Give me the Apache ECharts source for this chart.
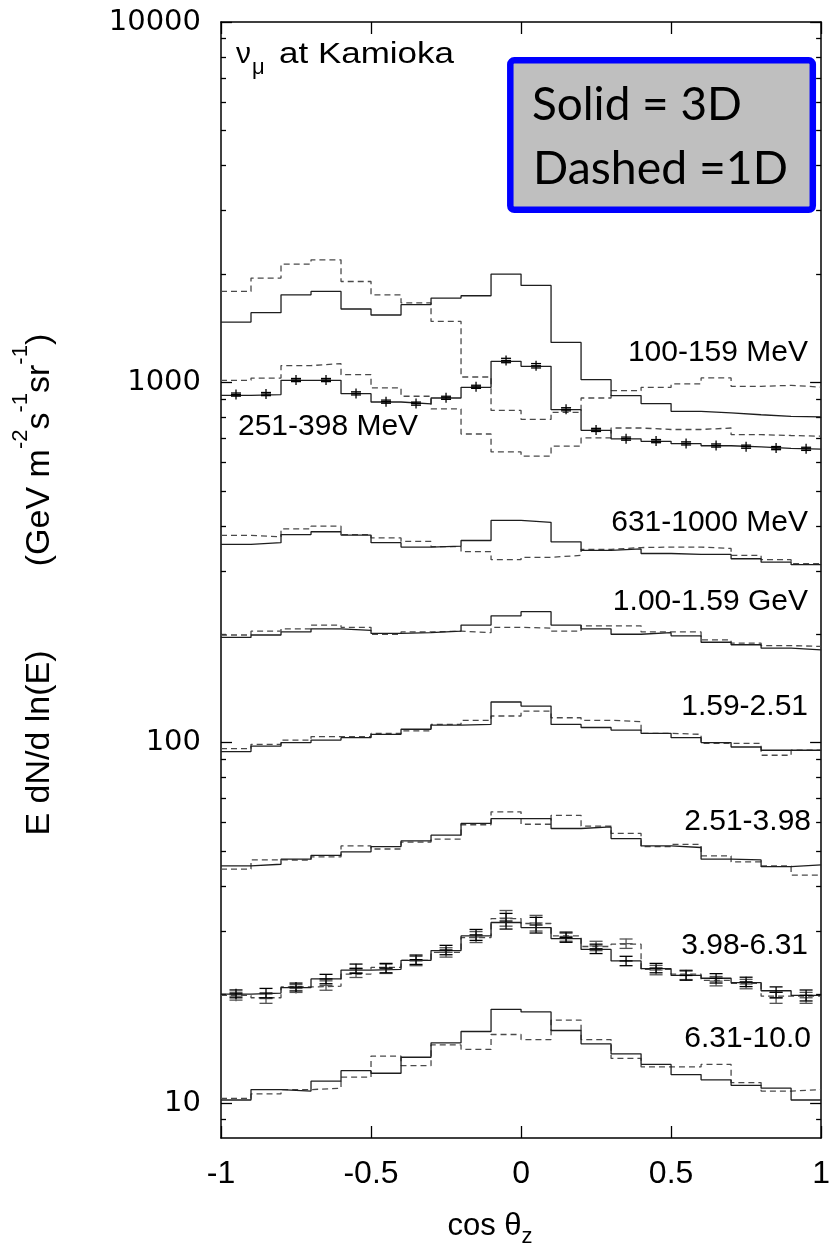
<!DOCTYPE html>
<html>
<head>
<meta charset="utf-8">
<script src="https://cdn.jsdelivr.net/npm/echarts@6/dist/echarts.min.js"></script>
<style>
html, body { margin: 0; padding: 0; background: #fff; }
#chart { width: 833px; height: 1244px; }
</style>
</head>
<body>
<div id="chart"></div>
<script>
// bin edges in cos(theta_z), 20 bins of 0.1
var edges = [-1.0, -0.9, -0.8, -0.7, -0.6, -0.5, -0.4, -0.3, -0.2, -0.1, 0.0,
             0.1, 0.2, 0.3, 0.4, 0.5, 0.6, 0.7, 0.8, 0.9, 1.0];

var yMajorTicks = [10, 100, 1000, 10000];
var yMinorTicks = [9, 20, 30, 40, 50, 60, 70, 80, 90,
                   200, 300, 400, 500, 600, 700, 800, 900,
                   2000, 3000, 4000, 5000, 6000, 7000, 8000, 9000];

// energy bands: solid = 3D, dashed = 1D
var band100_3d = [1470, 1561, 1750, 1788, 1598, 1538, 1643, 1714, 1739, 1998, 1858, 1291, 1017, 919, 873, 831, 823, 813, 805, 802];
var band100_1d = [1788, 1947, 2129, 2188, 1905, 1750, 1661, 1476, 1035, 836, 789, 826, 905, 948, 968, 990, 1029, 975, 981, 970];

var band251_3d = [920, 925, 1013, 1013, 930, 882, 871, 905, 969, 1144, 1108, 840, 736, 697, 686, 676, 667, 662, 656, 653];
var band251_1d = [1013, 1028, 1113, 1127, 1050, 965, 915, 844, 719, 641, 624, 665, 701, 747, 740, 740, 747, 716, 712, 709];
var pts251 = [925, 928, 1015, 1015, 932, 884, 873, 906, 972, 1150, 1112, 842, 738, 698, 687, 677, 668, 663, 657, 654];
var err251 = [0.01, 0.01, 0.01, 0.01, 0.01, 0.01, 0.01, 0.01, 0.01, 0.014, 0.014, 0.01, 0.01, 0.01, 0.01, 0.01, 0.01, 0.01, 0.01, 0.01];

var band631_3d = [355, 359, 378, 385, 377, 359, 349, 351, 364, 414, 409, 361, 342, 345, 335, 333, 333, 324, 317, 312];
var band631_1d = [376, 373, 392, 399, 378, 370, 362, 350, 339, 322, 327, 331, 344, 348, 349, 349, 346, 331, 322, 314];

var band1000_3d = [196, 199, 203, 207, 205, 201, 202, 204, 212, 225, 231, 212, 207, 200, 202, 198, 190, 187, 183, 181];
var band1000_1d = [199, 204, 207, 212, 209, 200, 203, 204, 202, 209, 208, 204, 211, 211, 203, 203, 193, 189, 186, 185];

var band1590_3d = [94.5, 97.9, 100.1, 101.7, 103.3, 105.5, 109.0, 111.9, 112.4, 129.7, 126.4, 112.4, 110.2, 108.4, 106.2, 103.3, 100.1, 97.3, 95.3, 95.3];
var band1590_1d = [96.3, 99.0, 101.7, 104.0, 104.0, 106.2, 107.8, 112.4, 115.4, 118.6, 122.4, 117.3, 115.4, 114.4, 106.2, 105.5, 99.6, 99.6, 92.3, 95.3];

var band2510_3d = [45.5, 46.0, 47.5, 48.7, 49.8, 51.5, 53.4, 55.4, 59.7, 61.6, 61.6, 57.8, 58.4, 54.2, 51.7, 51.2, 47.5, 47.3, 45.3, 45.8];
var band2510_1d = [44.6, 47.3, 47.2, 48.2, 51.7, 50.7, 53.0, 54.0, 59.2, 64.3, 59.4, 62.9, 58.7, 56.0, 51.5, 52.2, 48.5, 46.7, 45.5, 42.9];

var band3980_3d = [20.07, 20.2, 20.9, 22.1, 23.4, 23.5, 24.9, 26.5, 29.1, 31.7, 30.7, 28.6, 26.7, 24.8, 23.6, 22.6, 22.2, 21.6, 20.5, 19.9];
var band3980_1d = [19.9, 19.6, 21.0, 21.1, 22.8, 23.8, 24.9, 26.2, 28.8, 32.5, 31.5, 29.1, 27.2, 27.6, 23.5, 22.8, 21.9, 21.5, 19.8, 19.8];
var pts3980_a = [20.1, 20.2, 21.0, 22.1, 23.6, 23.7, 25.0, 26.6, 29.3, 32.0, 31.2, 28.8, 26.8, 24.8, 23.7, 22.6, 22.2, 21.7, 20.3, 19.9];
var pts3980_b = [19.8, 19.5, 20.8, 21.2, 23.0, 23.6, 24.8, 26.2, 28.9, 32.6, 31.6, 29.0, 27.3, 27.7, 23.4, 22.7, 21.8, 21.4, 19.6, 19.6];
var err3980 = [0.025, 0.03, 0.025, 0.03, 0.03, 0.03, 0.03, 0.03, 0.035, 0.05, 0.05, 0.03, 0.03, 0.03, 0.03, 0.03, 0.03, 0.03, 0.035, 0.035];

var band6310_3d = [10.2, 10.9, 10.8, 11.5, 12.3, 12.1, 13.4, 14.7, 15.8, 18.2, 17.9, 15.9, 14.6, 13.7, 12.8, 12.0, 11.6, 11.2, 11.0, 10.2];
var band6310_1d = [10.3, 10.6, 10.9, 11.0, 11.8, 13.5, 12.7, 14.5, 14.1, 15.5, 15.0, 17.0, 15.0, 13.3, 12.6, 12.6, 12.8, 11.4, 10.8, 10.9];

var FONT = 'Liberation Sans, Arial, Helvetica, sans-serif';

function histData(vals) {
    return edges.map(function (e, i) {
        return [e, vals[Math.min(i, vals.length - 1)]];
    });
}

function stepSeries(vals, dashed) {
    return {
        type: 'line',
        data: histData(vals),
        step: 'end',
        symbol: 'none',
        silent: true,
        animation: false,
        z: dashed ? 2 : 3,
        lineStyle: {
            color: dashed ? '#4a4a4a' : '#1e1e1e',
            width: 1.3,
            type: dashed ? [6, 4] : 'solid'
        }
    };
}

// points with error bars: vertical bar, caps and a centre tick
function errSeries(vals, errs, color, hw) {
    var data = vals.map(function (v, i) {
        return [(edges[i] + edges[i + 1]) / 2, v, errs[i]];
    });
    return {
        type: 'custom',
        data: data,
        silent: true,
        animation: false,
        z: 4,
        encode: { x: 0, y: 1 },
        renderItem: function (params, api) {
            var x = api.value(0), v = api.value(1), e = api.value(2);
            var c = api.coord([x, v]);
            var hi = api.coord([x, v * (1 + e)]);
            var lo = api.coord([x, v * (1 - e)]);
            var top = Math.min(hi[1], c[1] - 5);
            var bot = Math.max(lo[1], c[1] + 5);
            var st = { stroke: color, lineWidth: 1.3 };
            return {
                type: 'group',
                children: [
                    { type: 'line', shape: { x1: c[0], y1: top, x2: c[0], y2: bot }, style: st },
                    { type: 'line', shape: { x1: c[0] - hw, y1: hi[1], x2: c[0] + hw, y2: hi[1] }, style: st },
                    { type: 'line', shape: { x1: c[0] - hw, y1: lo[1], x2: c[0] + hw, y2: lo[1] }, style: st },
                    { type: 'line', shape: { x1: c[0] - hw, y1: c[1], x2: c[0] + hw, y2: c[1] }, style: st }
                ]
            };
        }
    };
}

// canvas measure, to stretch a few texts to the width seen in the picture
var measureCtx = document.createElement('canvas').getContext('2d');
function fitX(text, font, width) {
    measureCtx.font = font;
    return width / measureCtx.measureText(text).width;
}

function yAxisCfg(pos, major) {
    return {
        type: 'log',
        logBase: 10,
        min: 8,
        max: 10000,
        position: pos,
        axisLine: { show: major, onZero: false, lineStyle: { color: '#000', width: 1.5 } },
        axisTick: {
            show: true,
            inside: true,
            length: major ? 11 : 5,
            customValues: major ? yMajorTicks : yMinorTicks,
            lineStyle: { color: '#000', width: 1.3 }
        },
        axisLabel: {
            show: major && pos === 'left',
            customValues: yMajorTicks,
            margin: 20,
            color: '#000',
            fontFamily: 'DejaVu Sans',
            fontSize: 29,
            formatter: function (v) { return String(Math.round(v)); }
        },
        splitLine: { show: false },
        minorTick: { show: false },
        minorSplitLine: { show: false }
    };
}

function xAxisCfg(pos) {
    return {
        type: 'value',
        min: -1,
        max: 1,
        interval: 0.5,
        position: pos,
        axisLine: { show: true, onZero: false, lineStyle: { color: '#000', width: 1.5 } },
        axisTick: { show: true, inside: true, length: 12, lineStyle: { color: '#000', width: 1.3 } },
        axisLabel: {
            show: pos === 'bottom',
            margin: 20,
            color: '#000',
            fontFamily: FONT,
            fontSize: 32,
            formatter: function (v) { return String(v); }
        },
        splitLine: { show: false }
    };
}

function label(text, x, y, align) {
    return {
        type: 'text',
        x: x,
        y: y,
        silent: true,
        style: { text: text, font: '30px ' + FONT, fill: '#000', align: align || 'right', verticalAlign: 'middle' }
    };
}

var legendFont = '47px Lato, "Open Sans", sans-serif';
var kamFont = '30px ' + FONT;

var graphics = [
    // legend box
    {
        type: 'rect',
        silent: true,
        shape: { x: 510.3, y: 60.3, width: 302.5, height: 149.5, r: 4 },
        style: { fill: '#bfbfbf', stroke: '#0000ff', lineWidth: 6.5 },
        z: 10
    },
    {
        type: 'text', x: 532, y: 105, z: 11, silent: true,
        scaleX: fitX('Solid = 3D', legendFont, 210),
        style: { text: 'Solid = 3D', font: legendFont, fill: '#000', align: 'left', verticalAlign: 'middle' }
    },
    {
        type: 'text', x: 533, y: 169, z: 11, silent: true,
        scaleX: fitX('Dashed =1D', legendFont, 255),
        style: { text: 'Dashed =1D', font: legendFont, fill: '#000', align: 'left', verticalAlign: 'middle' }
    },
    // nu_mu at Kamioka
    {
        type: 'text', x: 236, y: 54.6, silent: true,
        style: { text: 'ν', font: kamFont, fill: '#000', align: 'left', verticalAlign: 'middle' }
    },
    {
        type: 'text', x: 252, y: 67.5, silent: true,
        style: { text: 'μ', font: '22px ' + FONT, fill: '#000', align: 'left', verticalAlign: 'middle' }
    },
    {
        type: 'text', x: 279, y: 54.6, silent: true,
        scaleX: fitX('at Kamioka', kamFont, 175),
        style: { text: 'at Kamioka', font: kamFont, fill: '#000', align: 'left', verticalAlign: 'middle' }
    },
    // band labels
    label('100-159 MeV', 808, 353),
    label('251-398 MeV', 238, 427, 'left'),
    label('631-1000 MeV', 808, 523),
    label('1.00-1.59 GeV', 808, 602),
    label('1.59-2.51', 808, 707),
    label('2.51-3.98', 811, 822),
    label('3.98-6.31', 808, 946),
    label('6.31-10.0', 811, 1039),
    // y axis title, two pieces, reading bottom to top
    {
        type: 'text', x: 40, y: 743, rotation: Math.PI / 2, silent: true,
        style: { text: 'E dN/d ln(E)', font: '34px ' + FONT, fill: '#000', align: 'center', verticalAlign: 'middle' }
    },
    {
        type: 'text', x: 40, y: 450, rotation: Math.PI / 2, silent: true,
        style: {
            text: '{a|(GeV m}{s|-2}{a|s}{s|-1}{a|sr}{s|-1}{a|)}',
            align: 'center',
            verticalAlign: 'middle',
            rich: {
                a: { font: '34px ' + FONT, fill: '#000', lineHeight: 60 },
                s: { font: '22px ' + FONT, fill: '#000', lineHeight: 22, verticalAlign: 'top' }
            }
        }
    },
    // x axis title
    {
        type: 'text', x: 490, y: 1226, silent: true,
        style: {
            text: '{a|cos θ}{s|z}',
            align: 'center',
            verticalAlign: 'middle',
            rich: {
                a: { font: '31px ' + FONT, fill: '#000', lineHeight: 44 },
                s: { font: '22px ' + FONT, fill: '#000', lineHeight: 20, verticalAlign: 'bottom' }
            }
        }
    }
];

var chart = echarts.init(document.getElementById('chart'));

chart.setOption({
    animation: false,
    backgroundColor: '#fff',
    grid: { left: 221, right: 8, top: 22, bottom: 106, containLabel: false },
    xAxis: [xAxisCfg('bottom'), xAxisCfg('top')],
    yAxis: [yAxisCfg('left', true), yAxisCfg('left', false), yAxisCfg('right', true), yAxisCfg('right', false)],
    series: [
        stepSeries(band100_1d, true), stepSeries(band100_3d, false),
        stepSeries(band251_1d, true), stepSeries(band251_3d, false),
        errSeries(pts251, err251, '#000', 5),
        stepSeries(band631_1d, true), stepSeries(band631_3d, false),
        stepSeries(band1000_1d, true), stepSeries(band1000_3d, false),
        stepSeries(band1590_1d, true), stepSeries(band1590_3d, false),
        stepSeries(band2510_1d, true), stepSeries(band2510_3d, false),
        stepSeries(band3980_1d, true), stepSeries(band3980_3d, false),
        errSeries(pts3980_b, err3980, '#555', 6.5),
        errSeries(pts3980_a, err3980, '#000', 6.5),
        stepSeries(band6310_1d, true), stepSeries(band6310_3d, false)
    ],
    graphic: graphics
});
</script>
</body>
</html>
